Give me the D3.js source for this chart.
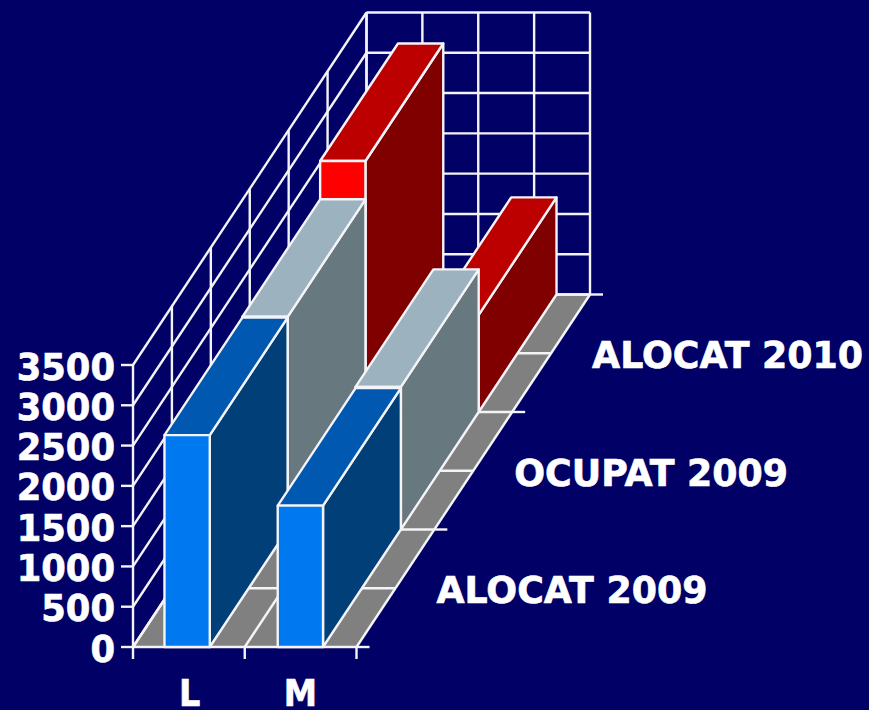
<!DOCTYPE html>
<html>
<head>
<meta charset="utf-8">
<script src="https://cdn.jsdelivr.net/npm/d3@7"></script>
<style>
  html, body { margin: 0; padding: 0; background: #000066; }
  svg { display: block; }
  text { font-family: "DejaVu Sans", sans-serif; font-weight: bold; fill: #fff; stroke: #fff; stroke-width: 0.7px; font-size: 38px; }
</style>
</head>
<body>
<div id="chart"></div>
<script>
var categories = ["L", "M"];
var seriesNames = ["ALOCAT 2009", "OCUPAT 2009", "ALOCAT 2010"];
var alocat2009 = [2630, 1755];
var ocupat2009 = [2640, 1770];
var alocat2010 = [3115, 1205];
var seriesValues = [alocat2009, ocupat2009, alocat2010];
var yTicks = [0, 500, 1000, 1500, 2000, 2500, 3000, 3500];

var frontColors = ["#0078f0", "#c8dce8", "#ff0000"];
var topColors = ["#0058b0", "#9cb2be", "#bc0000"];
var sideColors = ["#003f78", "#68787f", "#800000"];

var width = 869;
var height = 710;
var depthX = 233.5;
var depthY = -352.5;

var svg = d3.select("#chart").append("svg").attr("width", width).attr("height", height);

var y = d3.scaleLinear().domain([0, 3500]).range([647, 365]);
// axis runs edge to edge, the bars sit a bit off the tick marks
var xEdge = d3.scaleLinear().domain([0, 2]).range([133, 356.5]);
var xBar = d3.scaleBand().domain(categories).range([130.5, 357]).paddingInner(0.6).paddingOuter(0.3);
var depth = d3.scaleBand().domain(seriesNames).range([0, 1]);

function proj(px, value, d) {
  return [px + d * depthX, y(value) + d * depthY];
}

function line(g, a, b) {
  g.append("line")
    .attr("x1", a[0]).attr("y1", a[1])
    .attr("x2", b[0]).attr("y2", b[1])
    .attr("stroke", "#f4f4f8")
    .attr("stroke-width", 2.4);
}

function face(g, pts, color) {
  g.append("polygon")
    .attr("points", pts.map((p) => p.join(",")).join(" "))
    .attr("fill", color)
    .attr("stroke", "#f4f4f8")
    .attr("stroke-width", 2.4)
    .attr("stroke-linejoin", "round");
}

var xSteps = d3.range(0, 2.01, 0.5);
var depthSteps = d3.range(0, 7).map((i) => i / 6);
var maxV = 3500;
var x0 = xEdge(0);
var x1 = xEdge(2);

// floor
var floor = svg.append("g");
floor.append("polygon")
  .attr("points", [proj(x0, 0, 0), proj(x1, 0, 0), proj(x1, 0, 1), proj(x0, 0, 1)].map((p) => p.join(",")).join(" "))
  .attr("fill", "#808080");
depthSteps.forEach((d) => line(floor, proj(x0, 0, d), proj(x1, 0, d)));
xSteps.forEach((v) => line(floor, proj(xEdge(v), 0, 0), proj(xEdge(v), 0, 1)));

// back wall and left wall
var walls = svg.append("g");
yTicks.forEach((v) => {
  line(walls, proj(x0, v, 1), proj(x1, v, 1));
  line(walls, proj(x0, v, 0), proj(x0, v, 1));
});
xSteps.forEach((v) => line(walls, proj(xEdge(v), 0, 1), proj(xEdge(v), maxV, 1)));
depthSteps.forEach((d) => line(walls, proj(x0, 0, d), proj(x0, maxV, d)));

// tick marks
var ticks = svg.append("g");
yTicks.forEach((v) => line(ticks, [x0 - 12, y(v)], [x0, y(v)]));
d3.range(0, 3).forEach((i) => line(ticks, [xEdge(i), y(0)], [xEdge(i), y(0) + 12]));
[0, 1 / 3, 2 / 3, 1].forEach((d) => {
  var p = proj(x1, 0, d);
  line(ticks, p, [p[0] + 13, p[1]]);
});

// bars, back row first
var bars = svg.append("g");
d3.range(seriesNames.length - 1, -1, -1).forEach((s) => {
  var d0 = depth(seriesNames[s]);
  var d1 = d0 + depth.bandwidth();
  categories.forEach((c, i) => {
    var v = seriesValues[s][i];
    var l = xBar(c);
    var r = l + xBar.bandwidth();
    face(bars, [proj(r, 0, d0), proj(r, 0, d1), proj(r, v, d1), proj(r, v, d0)], sideColors[s]);
    face(bars, [proj(l, v, d0), proj(r, v, d0), proj(r, v, d1), proj(l, v, d1)], topColors[s]);
    face(bars, [proj(l, 0, d0), proj(r, 0, d0), proj(r, v, d0), proj(l, v, d0)], frontColors[s]);
  });
});

// y labels
var yAxis = svg.append("g")
  .attr("transform", `translate(${x0 - 18},0)`)
  .call(d3.axisLeft(y).tickValues(yTicks).tickSize(0).tickPadding(0).tickFormat(d3.format("d")));
yAxis.select(".domain").remove();
yAxis.selectAll("text")
  .attr("x", 0)
  .attr("dy", "0.37em")
  .attr("transform", "scale(0.93,1)");

// x labels
var xAxis = svg.append("g")
  .attr("transform", "translate(0,706)")
  .call(d3.axisBottom(xBar).tickSize(0).tickPadding(0));
xAxis.select(".domain").remove();
xAxis.selectAll("text")
  .attr("x", (d) => (d === "L" ? 3 : 0))
  .attr("y", 0)
  .attr("dy", 0)
  .attr("transform", "scale(0.88,1)");

// series labels, next to the floor edge
seriesNames.forEach((name, s) => {
  var p = proj(x1, 0, depth(name) + depth.bandwidth() / 2);
  svg.append("text")
    .attr("transform", `translate(${p[0] + 41},${p[1] + 15}) scale(0.955,1)`)
    .text(name);
});
</script>
</body>
</html>
